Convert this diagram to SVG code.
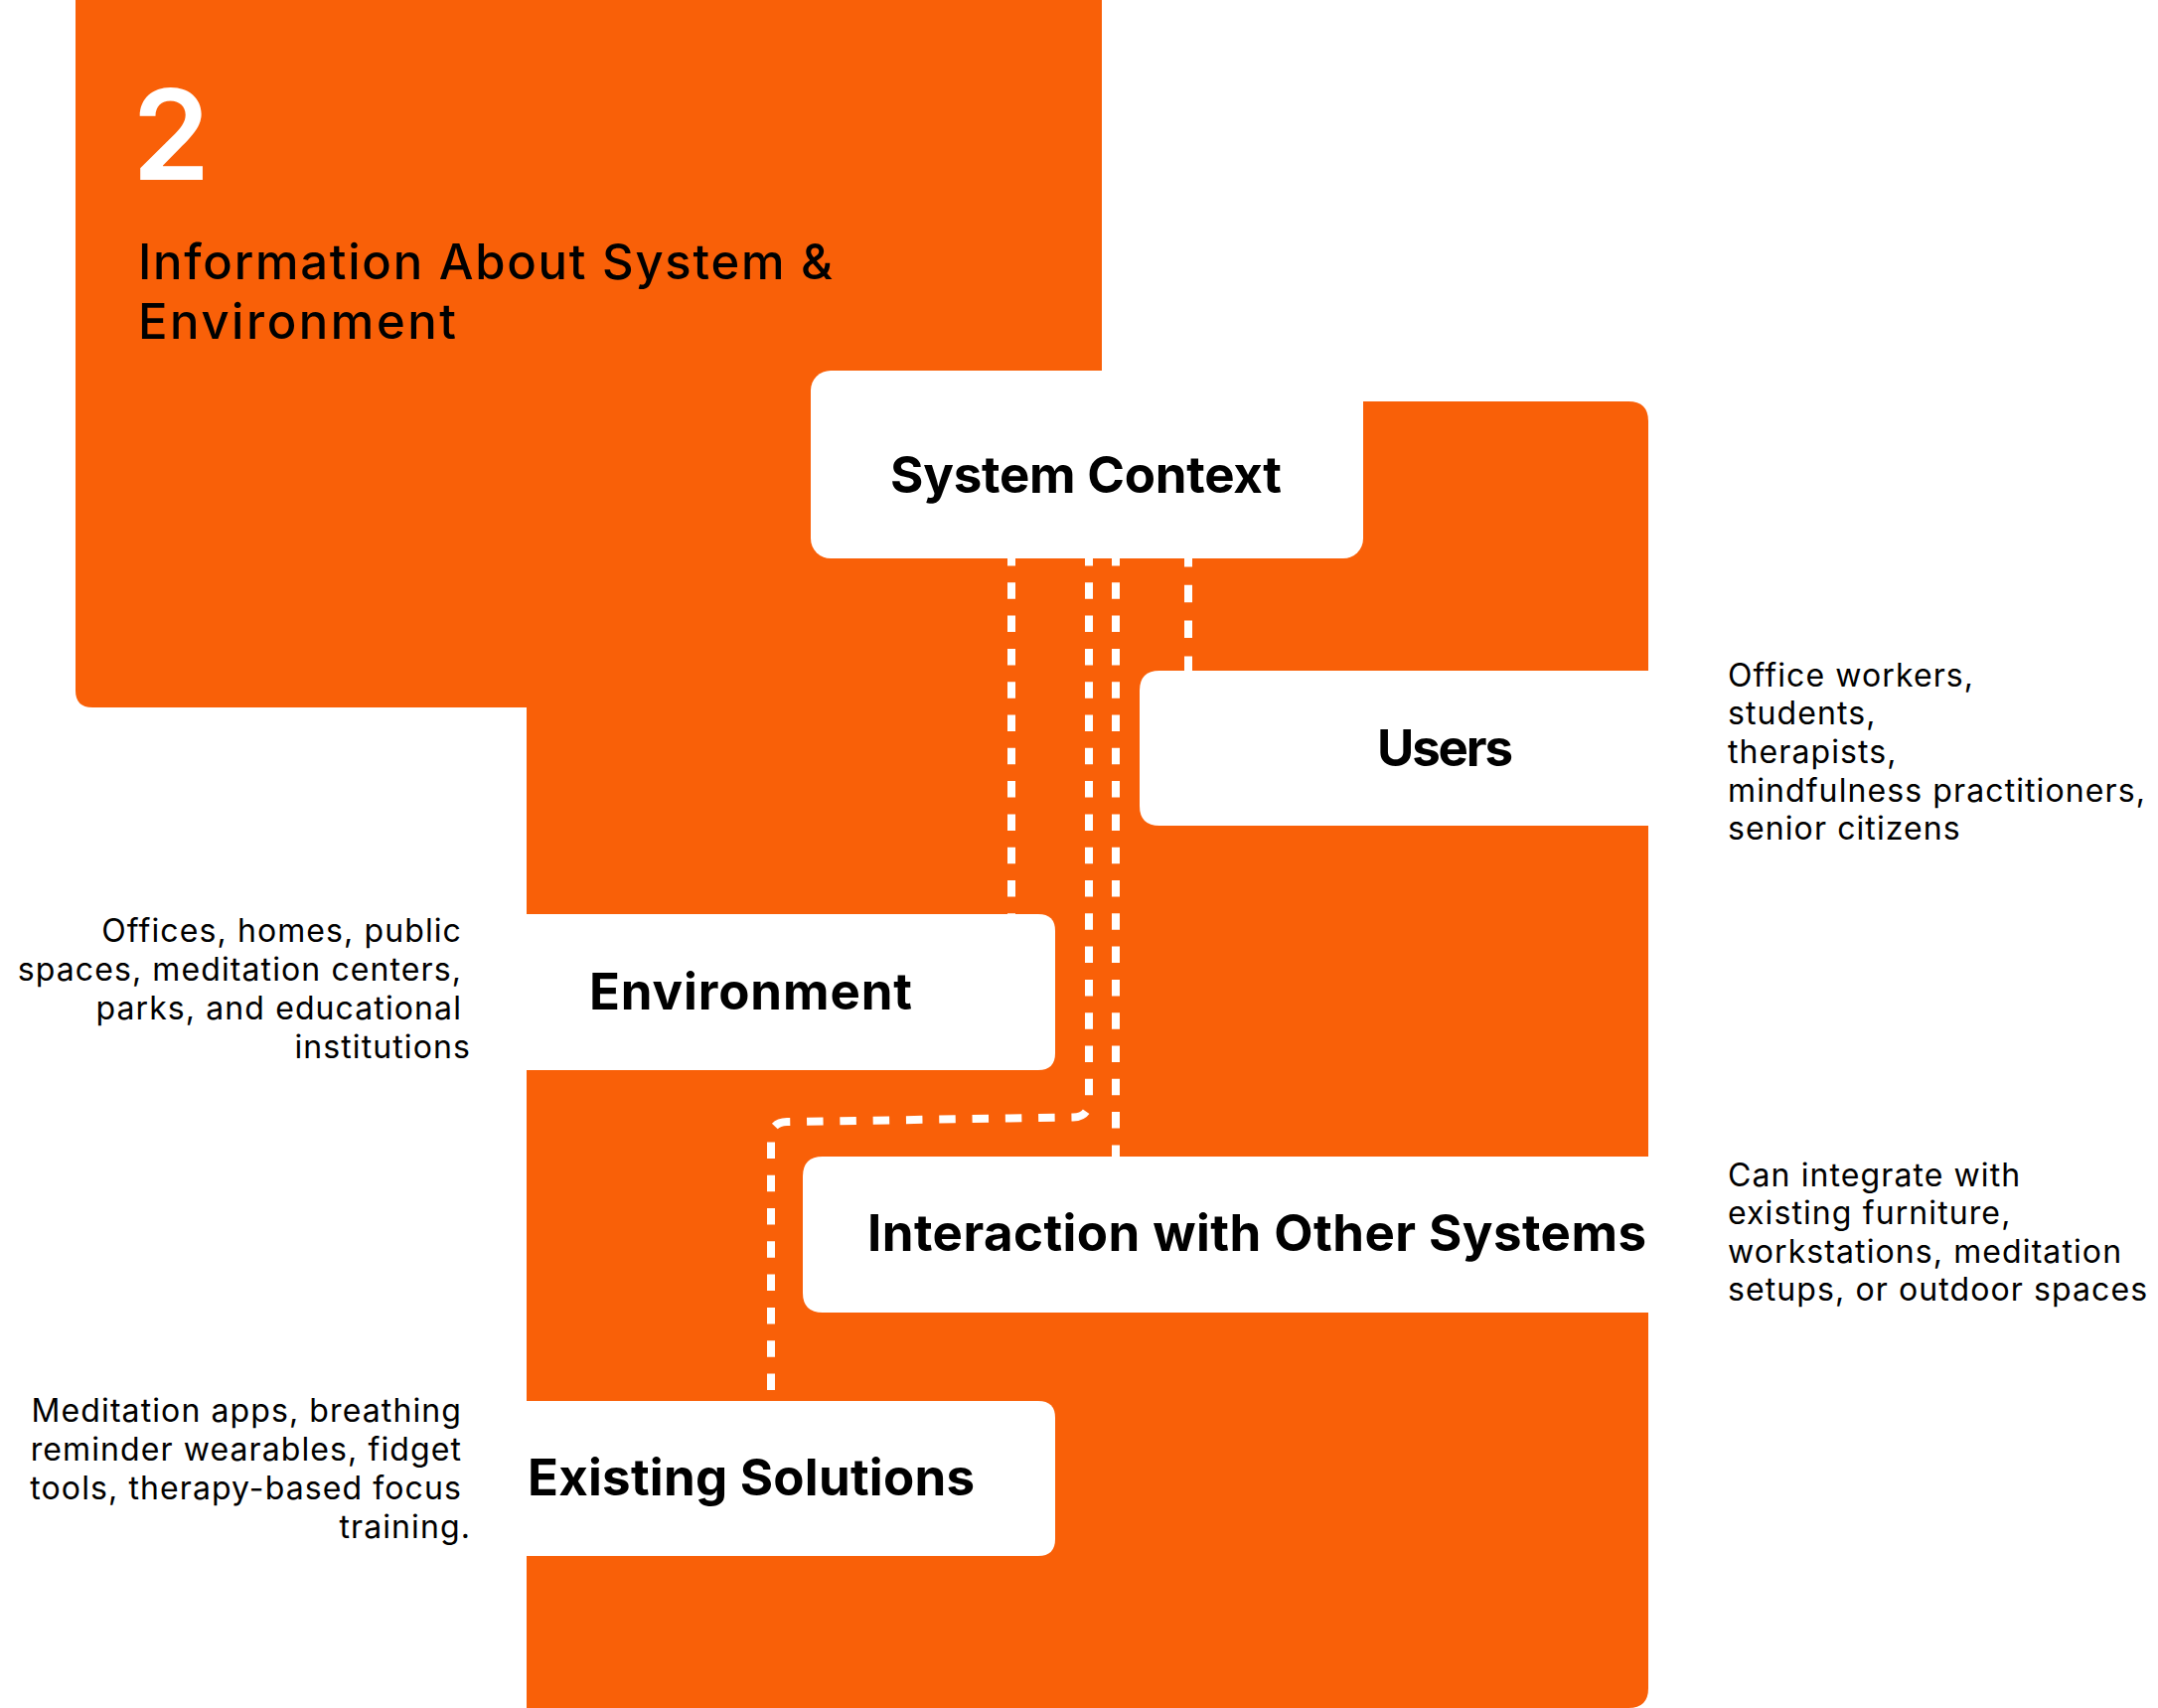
<svg xmlns="http://www.w3.org/2000/svg" width="2172" height="1719" viewBox="0 0 2172 1719">
  <style>
    .bg { fill: #F96008; }
    .box { fill: #FFFFFF; }
    .title { font-family: Inter, "Open Sans", sans-serif; font-weight: 700; font-size: 51px; fill: #000000; }
    .desc { font-family: Inter, "Open Sans", sans-serif; font-weight: 400; font-size: 32px; letter-spacing: 1.1px; fill: #000000; }
    .head { font-family: Inter, "Open Sans", sans-serif; font-weight: 500; font-size: 49px; fill: #000000; }
    .num { font-family: Inter, "Open Sans", sans-serif; font-weight: 600; font-size: 126px; fill: #FFFFFF; }
    .dash { fill: none; stroke: #FFFFFF; stroke-width: 8; stroke-dasharray: 16.5 16.8; }
  </style>
  <rect width="2172" height="1719" fill="#FFFFFF"/>

  <g id="background">
    <path class="bg" d="M76,0 H1109 V712 H93 Q76,712 76,695 Z"/>
    <path class="bg" d="M530,404 H1639 Q1659,404 1659,424 V1699 Q1659,1719 1639,1719 H530 Z"/>
  </g>

  <g id="header">
    <text class="num" x="133" y="181">2</text>
    <text class="head" x="139" y="281" textLength="699" lengthAdjust="spacing">Information About System &amp;</text>
    <text class="head" x="139" y="341" textLength="320" lengthAdjust="spacing">Environment</text>
  </g>

  <g id="connectors">
    <path class="dash" d="M1018,553 V920"/>
    <path class="dash" d="M1123,553 V1164"/>
    <path class="dash" d="M1196,553 V675" style="stroke-dasharray: 17.5 18.3"/>
    <path class="dash" d="M1096,553 V1108 Q1096,1124 1080,1124.5 L792,1129 Q776,1129.5 776,1145 V1410"/>
  </g>

  <g id="system-context">
    <rect class="box" x="816" y="373" width="556" height="189" rx="20"/>
    <text class="title" x="896" y="496" textLength="394" lengthAdjust="spacing">System Context</text>
  </g>

  <g id="users">
    <path class="box" d="M1167,675 H1659 V831 H1167 Q1147,831 1147,811 V695 Q1147,675 1167,675 Z"/>
    <text class="title" x="1386" y="771" textLength="137" lengthAdjust="spacing">Users</text>
    <text class="desc" x="1739" y="691">Office workers,</text>
    <text class="desc" x="1739" y="729">students,</text>
    <text class="desc" x="1739" y="768">therapists,</text>
    <text class="desc" x="1739" y="807">mindfulness practitioners,</text>
    <text class="desc" x="1739" y="845">senior citizens</text>
  </g>

  <g id="environment">
    <path class="box" d="M529,920 H1045 Q1062,920 1062,937 V1060 Q1062,1077 1045,1077 H529 Z"/>
    <text class="title" x="593" y="1016" textLength="325" lengthAdjust="spacing">Environment</text>
    <g class="desc" text-anchor="end">
      <text x="465" y="948">Offices, homes, public</text>
      <text x="465" y="987">spaces, meditation centers,</text>
      <text x="465" y="1026">parks, and educational</text>
      <text x="474" y="1065">institutions</text>
    </g>
  </g>

  <g id="interaction">
    <path class="box" d="M828,1164 H1659 V1321 H828 Q808,1321 808,1301 V1184 Q808,1164 828,1164 Z"/>
    <text class="title" x="873" y="1259" textLength="784" lengthAdjust="spacing">Interaction with Other Systems</text>
    <text class="desc" x="1739" y="1194">Can integrate with</text>
    <text class="desc" x="1739" y="1232">existing furniture,</text>
    <text class="desc" x="1739" y="1271">workstations, meditation</text>
    <text class="desc" x="1739" y="1309">setups, or outdoor spaces</text>
  </g>

  <g id="existing-solutions">
    <path class="box" d="M529,1410 H1045 Q1062,1410 1062,1427 V1549 Q1062,1566 1045,1566 H529 Z"/>
    <text class="title" x="531" y="1505" textLength="450" lengthAdjust="spacing">Existing Solutions</text>
    <g class="desc" text-anchor="end">
      <text x="465" y="1431">Meditation apps, breathing</text>
      <text x="465" y="1470">reminder wearables, fidget</text>
      <text x="465" y="1509">tools, therapy-based focus</text>
      <text x="474" y="1548">training.</text>
    </g>
  </g>
</svg>
